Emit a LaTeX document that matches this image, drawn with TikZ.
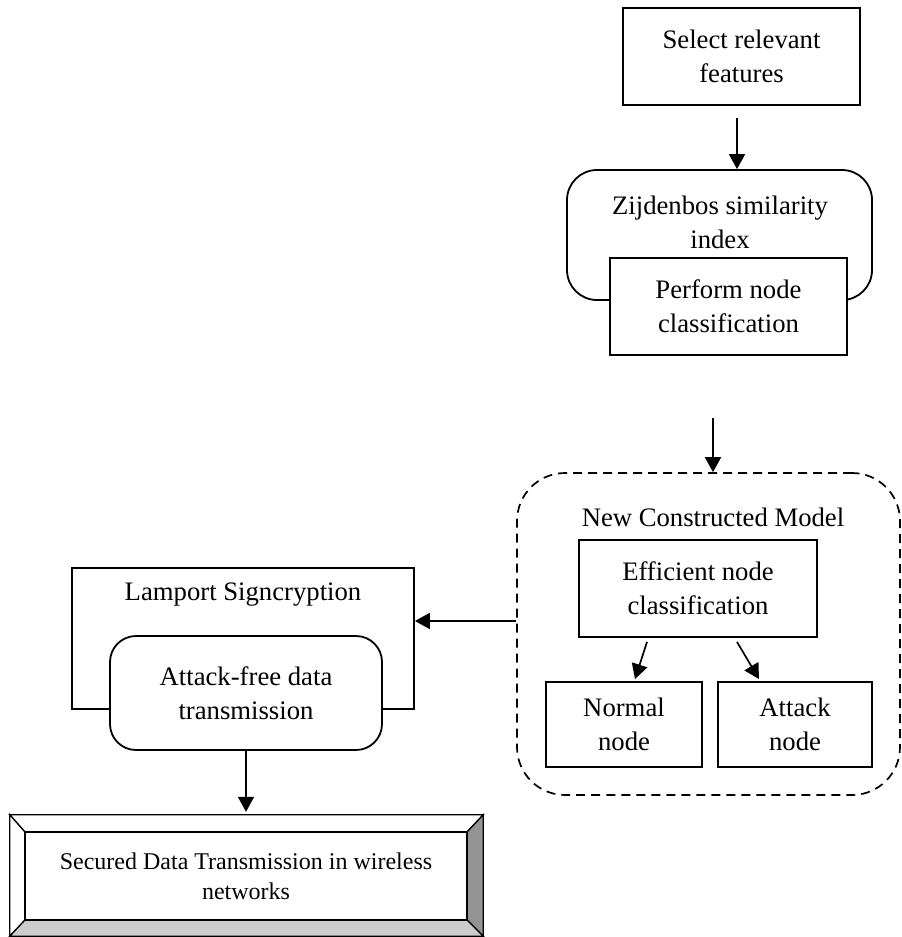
\documentclass[tikz,border=0pt]{standalone}
\usepackage{fontspec}
\setmainfont{Liberation Serif}
\usetikzlibrary{arrows.meta,calc}
\begin{document}
\begin{tikzpicture}[x=1pt,y=-1pt,
  every node/.style={font=\fontsize{26.7}{34}\selectfont, align=center, inner sep=0pt},
  boxed/.style={draw, line width=1.8pt, fill=white},
  plain/.style={draw=none, fill=none},
  arr/.style={line width=1.7pt, -{Triangle[length=15pt,width=16pt]}},
  dashbox/.style={draw, line width=1.7pt, dash pattern=on 9pt off 6pt, rounded corners=48pt},
  bevline/.style={draw, line width=1.3pt, line join=miter}]
\useasboundingbox (0,0) rectangle (902,937);

% top column
\node[boxed, minimum width=237pt, minimum height=97pt] (sel) at (741.5,56.5) {Select relevant\\features};
\node[boxed, rounded corners=30pt, minimum width=305pt, minimum height=130pt] (zij) at (719.5,235) {};
\node[plain] (zijt) at (720,222) {Zijdenbos similarity\\index};
\node[boxed, minimum width=237pt, minimum height=97pt] (perf) at (728.5,306.5) {Perform node\\classification};

\coordinate (a1s) at (737,118);
\draw[arr] (a1s) -- (a1s |- zij.north);

% dashed model
\node[dashbox, minimum width=383pt, minimum height=322pt] (ncm) at (708.5,634) {};
\node[plain] (ncmt) at (713,517) {New Constructed Model};
\coordinate (a2s) at (713,418);
\draw[arr] (a2s) -- (a2s |- ncm.north);

\node[boxed, minimum width=238pt, minimum height=97pt] (eff) at (698,588.5) {Efficient node\\classification};
\node[boxed, minimum width=156pt, minimum height=85pt] (norm) at (624,724.5) {Normal\\node};
\node[boxed, minimum width=154pt, minimum height=85pt] (att) at (795,724.5) {Attack\\node};
\draw[arr] ([xshift=-51pt,yshift=-4pt]eff.south) -- ([xshift=11pt,yshift=2pt]norm.north);
\draw[arr] ([xshift=39pt,yshift=-4pt]eff.south) -- ([xshift=-36pt,yshift=2pt]att.north);

% Lamport
\node[boxed, minimum width=342pt, minimum height=141pt] (lamp) at (243,638.5) {};
\node[plain] (lampt) at (243,595) {Lamport Signcryption};
\node[boxed, rounded corners=26pt, minimum width=272pt, minimum height=114pt] (af) at (246,693) {Attack-free data\\transmission};
\coordinate (ya) at (0,621);
\draw[arr] (ncm.west |- ya) -- (lamp.east |- ya);

% bevel box
\node[minimum width=473pt, minimum height=121pt] (bev) at (246.5,875.5) {};
\node[minimum width=442pt, minimum height=88pt] (secp) at (246,876) {};
\path[bevline, fill=white] (bev.north west) -- (bev.north east) -- (secp.north east) -- (secp.north west) -- cycle;
\path[bevline, fill=white] (bev.north west) -- (bev.south west) -- (secp.south west) -- (secp.north west) -- cycle;
\path[bevline, fill=black!42] (bev.north east) -- (bev.south east) -- (secp.south east) -- (secp.north east) -- cycle;
\path[bevline, fill=black!20] (bev.south west) -- (bev.south east) -- (secp.south east) -- (secp.south west) -- cycle;
\node[draw, line width=1.3pt, fill=white, minimum width=442pt, minimum height=88pt, font=\fontsize{24}{30}\selectfont] (sec) at (246,876) {Secured Data Transmission in wireless\\networks};

\coordinate (bevtop) at ($(af.south |- bev.north)+(0,-3)$);
\draw[arr] (af.south) -- (bevtop);
\end{tikzpicture}
\end{document}
